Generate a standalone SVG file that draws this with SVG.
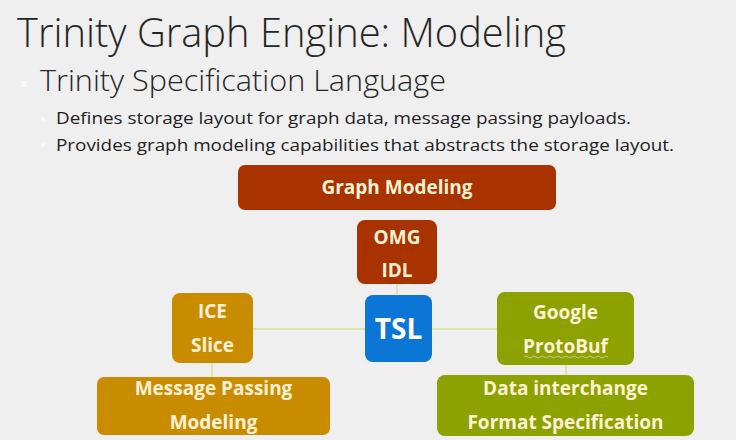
<svg xmlns="http://www.w3.org/2000/svg" width="736" height="440" viewBox="0 0 736 440">
<defs>
<style>
.h{font-family:"Open Sans","Liberation Sans",sans-serif;font-weight:300;fill:#262626}
.b{font-family:"Open Sans","Liberation Sans",sans-serif;fill:#222222}
.t{font-family:"Open Sans","Liberation Sans",sans-serif;font-weight:bold;font-size:19px;fill:#FFF2D6;text-anchor:middle}
.big{font-size:28px;fill:#FFFFFF}
.c{stroke:#D9E08C;stroke-width:1.5;fill:none}
.r{fill:#A83200}.o{fill:#C98C00}.g{fill:#8BA200}.bl{fill:#0B76D6}
</style>
</defs>
<rect width="736" height="440" fill="#EFEFEF"/>
<text class="h" x="17" y="47" font-size="41" textLength="549" lengthAdjust="spacingAndGlyphs">Trinity Graph Engine: Modeling</text>
<circle cx="24" cy="84" r="3" fill="#FAFAFA"/>
<text class="h" x="40" y="91" font-size="30" textLength="406" lengthAdjust="spacingAndGlyphs">Trinity Specification Language</text>
<circle cx="43" cy="119" r="2" fill="#F8F8F8"/>
<text class="b" x="56" y="124" font-size="17" textLength="575" lengthAdjust="spacingAndGlyphs">Defines storage layout for graph data, message passing payloads.</text>
<circle cx="43" cy="145" r="2" fill="#F8F8F8"/>
<text class="b" x="56" y="151" font-size="17" textLength="618" lengthAdjust="spacingAndGlyphs">Provides graph modeling capabilities that abstracts the storage layout.</text>
<g id="connectors">
<line class="c" x1="253" y1="329" x2="365" y2="329"/>
<line class="c" x1="432" y1="329" x2="497" y2="329"/>
<line class="c" x1="397" y1="284" x2="397" y2="295"/>
<line class="c" x1="212" y1="363" x2="212" y2="377"/>
<line class="c" x1="566" y1="365" x2="566" y2="375"/>
</g>
<g id="graph-modeling">
<rect class="r" x="238" y="165" width="318" height="45" rx="7"/>
<text class="t" x="397" y="194">Graph Modeling</text>
</g>
<g id="omg-idl">
<rect class="r" x="357" y="220" width="80" height="64" rx="8"/>
<text class="t" x="397" y="244">OMG</text>
<text class="t" x="397" y="277">IDL</text>
</g>
<g id="tsl">
<rect class="bl" x="365" y="295" width="67" height="67" rx="8"/>
<text class="t big" x="398.500" y="339">TSL</text>
</g>
<g id="ice-slice">
<rect class="o" x="172" y="293" width="81" height="70" rx="8"/>
<text class="t" x="212.500" y="318">ICE</text>
<text class="t" x="212.500" y="352">Slice</text>
</g>
<g id="message-passing">
<rect class="o" x="97" y="377" width="233" height="58" rx="7"/>
<text class="t" x="213.500" y="395">Message Passing</text>
<text class="t" x="213.500" y="429">Modeling</text>
</g>
<g id="google-protobuf">
<rect class="g" x="497" y="292" width="137" height="73" rx="8"/>
<text class="t" x="565.500" y="319">Google</text>
<text class="t" x="565.500" y="353">ProtoBuf</text>
<path d="M524 357 q2 -2 4 0 t4 0 t4 0 t4 0 t4 0 t4 0 t4 0 t4 0 t4 0 t4 0 t4 0 t4 0 t4 0 t4 0 t4 0 t4 0 t4 0 t4 0 t4 0 t4 0 t4 0" stroke="#C8C8A0" stroke-width="1" fill="none"/>
</g>
<g id="data-interchange">
<rect class="g" x="437" y="375" width="257" height="61" rx="8"/>
<text class="t" x="565.500" y="395">Data interchange</text>
<text class="t" x="565.500" y="429">Format Specification</text>
</g>
</svg>
